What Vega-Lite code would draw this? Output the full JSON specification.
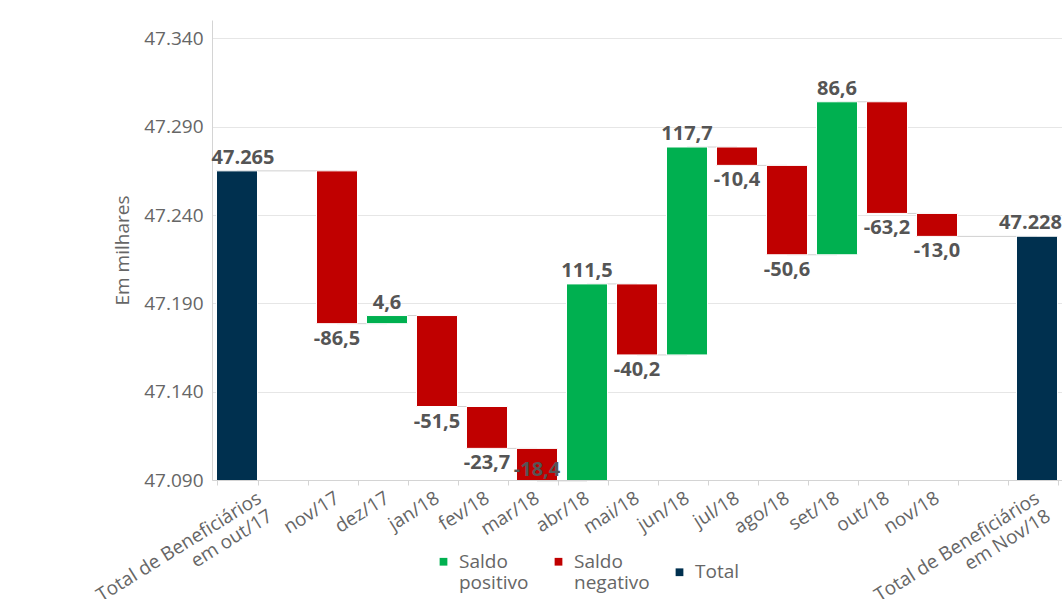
{
  "$schema": "https://vega.github.io/schema/vega-lite/v6.json",
  "width": 850,
  "height": 460,
  "autosize": {"type": "none"},
  "padding": {"left": 212, "top": 20, "right": 0, "bottom": 119},
  "background": "#ffffff",
  "config": {"font": "Open Sans", "view": {"stroke": null}},
  "data": {
    "values": [
      {"cat": "Total de Beneficiários em out/17", "next": "nov/17", "start": 0, "end": 47265, "type": "Total", "label": "47.265"},
      {"cat": "nov/17", "next": "dez/17", "start": 47265, "end": 47178.5, "type": "Saldo negativo", "label": "-86,5"},
      {"cat": "dez/17", "next": "jan/18", "start": 47178.5, "end": 47183.1, "type": "Saldo positivo", "label": "4,6"},
      {"cat": "jan/18", "next": "fev/18", "start": 47183.1, "end": 47131.6, "type": "Saldo negativo", "label": "-51,5"},
      {"cat": "fev/18", "next": "mar/18", "start": 47131.6, "end": 47107.9, "type": "Saldo negativo", "label": "-23,7"},
      {"cat": "mar/18", "next": "abr/18", "start": 47107.9, "end": 47089.5, "type": "Saldo negativo", "label": "-18,4"},
      {"cat": "abr/18", "next": "mai/18", "start": 47089.5, "end": 47201.0, "type": "Saldo positivo", "label": "111,5"},
      {"cat": "mai/18", "next": "jun/18", "start": 47201.0, "end": 47160.8, "type": "Saldo negativo", "label": "-40,2"},
      {"cat": "jun/18", "next": "jul/18", "start": 47160.8, "end": 47278.5, "type": "Saldo positivo", "label": "117,7"},
      {"cat": "jul/18", "next": "ago/18", "start": 47278.5, "end": 47268.1, "type": "Saldo negativo", "label": "-10,4"},
      {"cat": "ago/18", "next": "set/18", "start": 47268.1, "end": 47217.5, "type": "Saldo negativo", "label": "-50,6"},
      {"cat": "set/18", "next": "out/18", "start": 47217.5, "end": 47304.1, "type": "Saldo positivo", "label": "86,6"},
      {"cat": "out/18", "next": "nov/18", "start": 47304.1, "end": 47240.9, "type": "Saldo negativo", "label": "-63,2"},
      {"cat": "nov/18", "next": "Total de Beneficiários em Nov/18", "start": 47240.9, "end": 47227.9, "type": "Saldo negativo", "label": "-13,0"},
      {"cat": "Total de Beneficiários em Nov/18", "next": null, "start": 0, "end": 47228, "type": "Total", "label": "47.228"}
    ]
  },
  "encoding": {
    "x": {
      "field": "cat",
      "type": "nominal",
      "sort": null,
      "scale": {
        "domain": ["Total de Beneficiários em out/17", " ", "nov/17", "dez/17", "jan/18", "fev/18", "mar/18", "abr/18", "mai/18", "jun/18", "jul/18", "ago/18", "set/18", "out/18", "nov/18", "  ", "Total de Beneficiários em Nov/18"],
        "paddingInner": 0.18,
        "paddingOuter": 0.09
      },
      "axis": {
        "title": null,
        "tickBand": "extent",
        "labelAngle": -32,
        "labelAlign": "right",
        "labelBaseline": "middle",
        "labelFontSize": 19,
        "labelColor": "#666666",
        "labelPadding": 11,
        "labelOverlap": false,
        "labelBound": false,
        "labelLimit": 0,
        "labelLineHeight": 21,
        "tickSize": 5,
        "tickColor": "#d4d4d4",
        "domainColor": "#d4d4d4",
        "grid": false,
        "labelOffset": {"condition": {"test": "datum.value == 'Total de Beneficiários em out/17'", "value": 22}, "value": 0},
        "labelExpr": "datum.value == 'Total de Beneficiários em out/17' ? ['Total de Beneficiários', 'em out/17'] : datum.value == 'Total de Beneficiários em Nov/18' ? ['Total de Beneficiários', 'em Nov/18'] : datum.label"
      }
    },
    "y": {
      "field": "end",
      "type": "quantitative",
      "scale": {"domain": [47090, 47350.4], "nice": false, "zero": false},
      "axis": {
        "title": "Em milhares",
        "values": [47090, 47140, 47190, 47240, 47290, 47340],
        "labelExpr": "replace(format(datum.value, ','), ',', '.')",
        "labelFontSize": 19,
        "labelColor": "#666666",
        "tickSize": 0,
        "labelPadding": 9,
        "domainColor": "#d4d4d4",
        "gridColor": "#e6e6e6",
        "titleFontSize": 19,
        "titleColor": "#666666",
        "titleFontWeight": "normal",
        "titlePadding": 11
      }
    }
  },
  "layer": [
    {
      "transform": [{"filter": "datum.next != null"}],
      "mark": {"type": "rule", "color": "#d0d0d0", "strokeWidth": 1},
      "encoding": {"x2": {"field": "next"}}
    },
    {
      "mark": {"type": "bar", "clip": true, "stroke": "#ffffff", "strokeWidth": 1},
      "encoding": {
        "y2": {"field": "start"},
        "color": {
          "field": "type",
          "type": "nominal",
          "scale": {"domain": ["Saldo positivo", "Saldo negativo", "Total"], "range": ["#00b050", "#c00000", "#00304f"]},
          "legend": {
            "orient": "none",
            "legendX": 222,
            "legendY": 532,
            "direction": "horizontal",
            "title": null,
            "symbolType": "square",
            "symbolSize": 60,
            "symbolStrokeWidth": 0,
            "labelFontSize": 19,
            "labelColor": "#666666",
            "labelOffset": 6,
            "columnPadding": 20,
            "labelLineHeight": 23,
            "labelExpr": "datum.label == 'Saldo positivo' ? ['Saldo', 'positivo'] : datum.label == 'Saldo negativo' ? ['Saldo', 'negativo'] : datum.label"
          }
        }
      }
    },
    {
      "transform": [{"filter": "datum.type == 'Saldo positivo'"}],
      "mark": {"type": "text", "baseline": "bottom", "dy": -3, "fontSize": 20, "fontWeight": "bold", "color": "#555555"},
      "encoding": {"text": {"field": "label"}}
    },
    {
      "transform": [{"filter": "datum.type == 'Saldo negativo' && datum.end >= 47090"}],
      "mark": {"type": "text", "baseline": "top", "dy": 5, "fontSize": 20, "fontWeight": "bold", "color": "#555555"},
      "encoding": {"text": {"field": "label"}}
    },
    {
      "transform": [{"filter": "datum.type == 'Saldo negativo' && datum.end < 47090"}],
      "mark": {"type": "text", "baseline": "bottom", "dy": -1, "fontSize": 20, "fontWeight": "bold", "color": "#555555"},
      "encoding": {"text": {"field": "label"}}
    },
    {
      "transform": [{"filter": "datum.cat == 'Total de Beneficiários em out/17'"}],
      "mark": {"type": "text", "baseline": "bottom", "dy": -3, "dx": 6, "fontSize": 20, "fontWeight": "bold", "color": "#555555"},
      "encoding": {"text": {"field": "label"}}
    },
    {
      "transform": [{"filter": "datum.cat == 'Total de Beneficiários em Nov/18'"}],
      "mark": {"type": "text", "baseline": "bottom", "align": "right", "dy": -3, "dx": 25, "fontSize": 20, "fontWeight": "bold", "color": "#555555"},
      "encoding": {"text": {"field": "label"}}
    }
  ]
}
